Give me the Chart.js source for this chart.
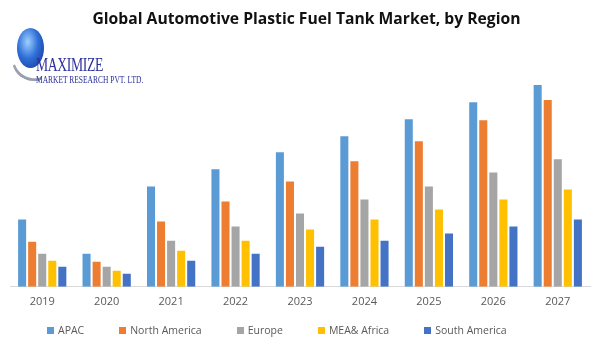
<!DOCTYPE html>
<html>
<head>
<meta charset="utf-8">
<script src="https://cdn.jsdelivr.net/npm/chart.js@4"></script>
<style>
  html, body { margin: 0; padding: 0; background: #fff; }
  #wrap { position: relative; width: 607px; height: 344px; overflow: hidden; }
  #chart { position: absolute; left: 0; top: 0; }
  .title { position: absolute; left: 0; width: 613px; top: 7px; text-align: center;
    font: bold 15.7px "Open Sans", sans-serif; color: #111; }
  .globe { position: absolute; left: 17px; top: 28px; width: 27px; height: 40px; border-radius: 50%;
    background: radial-gradient(ellipse at 40% 35%, #9fd0ff 0%, #2f6fd8 45%, #10308f 100%); }
  .swoosh { position: absolute; left: 12px; top: 40px; width: 38px; height: 38px; border-radius: 50%;
    border-bottom: 3px solid #9aa0ae; border-left: 2px solid transparent; border-right: 2px solid transparent; transform: rotate(25deg); }
  .brand { position: absolute; left: 36px; top: 54px; font: 19px "Liberation Serif", serif; color: #2c2f9c;
    transform: scaleX(0.72); transform-origin: left top; letter-spacing: -0.5px; }
  .brand2 { position: absolute; left: 36px; top: 73px; font: 11px "Liberation Serif", serif; color: #2c2f9c;
    transform: scaleX(0.68); transform-origin: left top; white-space: nowrap; }
  #legend { position: absolute; left: 47px; top: 323px; display: flex;
    font: 10.5px "Open Sans", sans-serif; color: #595959; }
  #legend .item { display: flex; align-items: center; margin-right: 35px; }
  #legend .box { width: 7px; height: 7px; margin-right: 4px; }
</style>
</head>
<body>
<div id="wrap">
  <canvas id="chart" width="607" height="344"></canvas>
  <div class="title">Global Automotive Plastic Fuel Tank Market, by Region</div>
  <div class="swoosh"></div>
  <div class="globe"></div>
  <div class="brand">MAXIMIZE</div>
  <div class="brand2">MARKET RESEARCH PVT. LTD.</div>
  <div id="legend"></div>
</div>
<script>
// Années
const years = ['2019', '2020', '2021', '2022', '2023', '2024', '2025', '2026', '2027'];

// Séries par région (unités arbitraires)
const apac         = [67, 33, 100, 117, 134, 150, 167, 184, 201];
const northAmerica = [45, 25, 65, 85, 105, 125, 145, 166, 186];
const europe       = [33, 20, 46, 60, 73, 87, 100, 114, 127];
const meaAfrica    = [26, 16, 36, 46, 57, 67, 77, 87, 97];
const southAmerica = [20, 13, 26, 33, 40, 46, 53, 60, 67];

const seriesNames  = ['APAC', 'North America', 'Europe', 'MEA& Africa', 'South America'];
const seriesColors = ['#5B9BD5', '#ED7D31', '#A5A5A5', '#FFC000', '#4472C4'];
const seriesData   = [apac, northAmerica, europe, meaAfrica, southAmerica];

const chart = new Chart(document.getElementById('chart'), {
  type: 'bar',
  data: {
    labels: years,
    datasets: seriesNames.map((name, i) => ({
      label: name,
      data: seriesData[i],
      backgroundColor: seriesColors[i],
      categoryPercentage: 0.78,
      barPercentage: 0.8,
    }))
  },
  options: {
    responsive: false,
    animation: false,
    layout: { padding: { top: 66, left: 10, right: 17, bottom: 28 } },
    plugins: {
      legend: { display: false },
      tooltip: { enabled: false }
    },
    scales: {
      x: {
        grid: { display: false, drawTicks: false },
        border: { display: true, color: '#d9d9d9', width: 1 },
        ticks: { color: '#595959', padding: 8, font: { family: 'Open Sans', size: 11 } }
      },
      y: { display: false, min: 0, max: 220 }
    }
  }
});

// Légende HTML construite depuis les séries
document.getElementById('legend').innerHTML = seriesNames.map((n, i) =>
  `<div class="item"><span class="box" style="background:${seriesColors[i]}"></span>${n}</div>`
).join('');
</script>
</body>
</html>
